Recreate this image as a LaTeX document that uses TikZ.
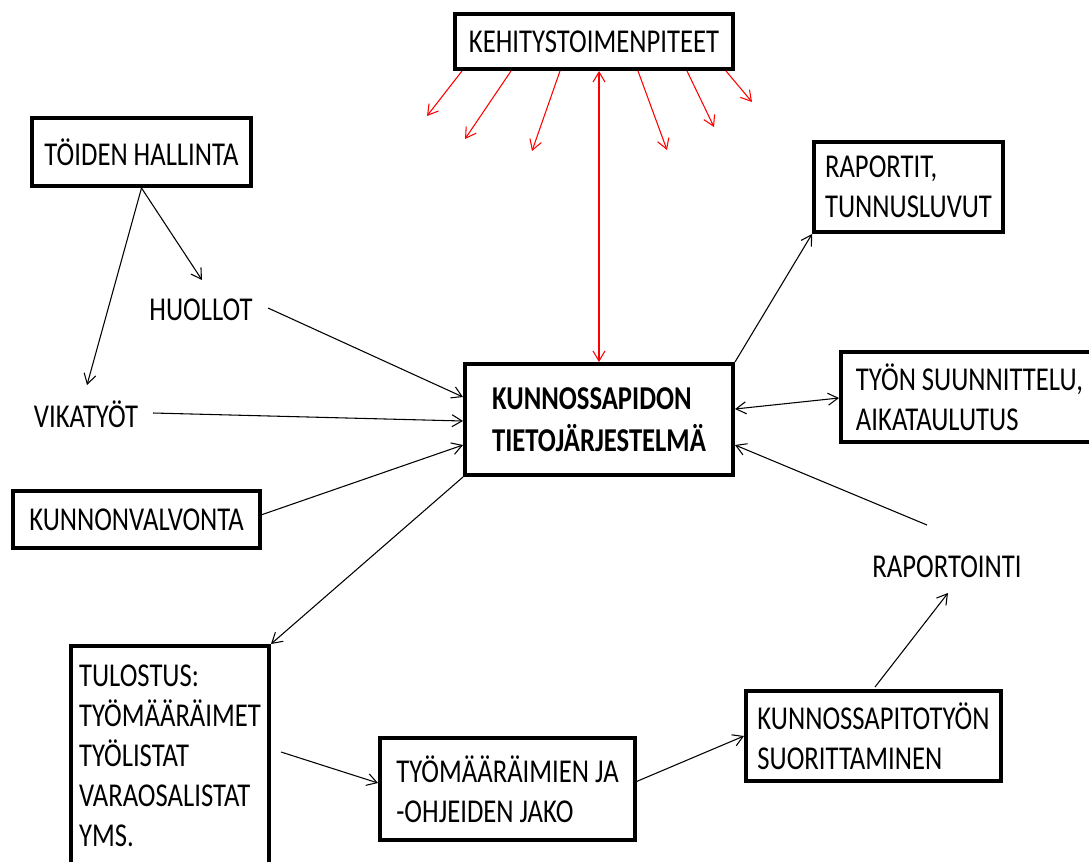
\documentclass[tikz,border=0pt]{standalone}
\usepackage{fontspec}
\setmainfont{Carlito}[FakeStretch=0.80]
\usetikzlibrary{arrows.meta}

\begin{document}
\begin{tikzpicture}[
  x=0.75pt, y=-0.75pt,
  every node/.style={font=\fontsize{25pt}{30pt}\selectfont},
  box/.style={draw, line width=3pt, align=left, inner sep=0pt},
  plain/.style={inner sep=0pt},
  arr/.style={line width=0.8pt, -{Straight Barb[length=7.5pt,width=9pt]}},
  darr/.style={line width=0.8pt, {Straight Barb[length=7.5pt,width=9pt]}-{Straight Barb[length=7.5pt,width=9pt]}},
  rarr/.style={arr, draw=red},
  rdarr/.style={darr, draw=red}
]
\fill[white] (0,0) rectangle (1089,861);
\clip (0,0) rectangle (1089,861);

% boxes
\node[box, minimum width=278*0.75pt, minimum height=55*0.75pt] (keh) at (594,41.5) {KEHITYSTOIMENPITEET};
\node[box, minimum width=219*0.75pt, minimum height=68*0.75pt] (toiden) at (141.5,152) {TÖIDEN HALLINTA};
\node[box, minimum width=189*0.75pt, minimum height=90*0.75pt] (raportit) at (908.5,187) {RAPORTIT,\\TUNNUSLUVUT};
\node[box, minimum width=268*0.75pt, minimum height=111*0.75pt, font=\fontsize{25pt}{31.5pt}\selectfont\bfseries] (central) at (599,419.5) {KUNNOSSAPIDON\\TIETOJÄRJESTELMÄ};
\node[box, minimum width=257*0.75pt, minimum height=90*0.75pt] (tyon) at (969.5,397) {TYÖN SUUNNITTELU,\\AIKATAULUTUS};
\node[box, minimum width=247*0.75pt, minimum height=57*0.75pt] (kunnonv) at (136.5,519.5) {KUNNONVALVONTA};
\node[box, anchor=north, minimum width=198*0.75pt, inner ysep=14pt, text depth=200pt] (tulostus) at (170,644)
  {TULOSTUS:\\TYÖMÄÄRÄIMET\\TYÖLISTAT\\VARAOSALISTAT\\YMS.};
\node[box, minimum width=255*0.75pt, minimum height=102*0.75pt] (jako) at (507.5,789) {TYÖMÄÄRÄIMIEN JA\\-OHJEIDEN JAKO};
\node[box, minimum width=255*0.75pt, minimum height=90*0.75pt] (suor) at (873.5,736) {KUNNOSSAPITOTYÖN\\SUORITTAMINEN};

% free-standing labels
\node[plain] (huollot) at (201,310) {HUOLLOT};
\node[plain] (vikatyot) at (86,414) {VIKATYÖT};
\node[plain] (raportointi) at (947,567) {RAPORTOINTI};

% black connectors
\draw[arr] (toiden.south) -- ([shift={(1,-30)}]huollot.center);
\draw[arr] (toiden.south) -- ([shift={(1,-29)}]vikatyot.center);
\draw[arr] ([shift={(67,-2)}]huollot.center) -- ([shift={(0,-22.5)}]central.west);
\draw[arr] ([shift={(67,-1)}]vikatyot.center) -- ([shift={(0,1.5)}]central.west);
\draw[arr] ([shift={(-4,-3.5)}]kunnonv.east) -- ([shift={(0,25.5)}]central.west);
\draw[arr] (central.south west) -- (tulostus.north east);
\draw[arr] (central.north east) -- (raportit.south west);
\draw[darr] ([shift={(0,-10.5)}]central.east) -- ([shift={(0,1)}]tyon.west);
\draw[arr] ([shift={(-20,-42)}]raportointi.center) -- ([shift={(0,25.5)}]central.east);
\draw[arr] ([shift={(10,108)}]tulostus.north east) -- ([shift={(0,-6)}]jako.west);
\draw[arr] ([shift={(-4,-6)}]jako.east) -- (suor.west);
\draw[arr] ([shift={(1.5,-2)}]suor.north) -- ([shift={(1,26)}]raportointi.center);

% red arrows spreading from the top box
\coordinate (r1) at (427,116);
\coordinate (r2) at (465,139);
\coordinate (r3) at (532,151);
\coordinate (r4) at (667,150);
\coordinate (r5) at (714,127);
\coordinate (r6) at (752,102);
\draw[rarr] ([shift={(9,0)}]keh.south west) -- (r1);
\draw[rarr] ([shift={(58,0)}]keh.south west) -- (r2);
\draw[rarr] ([shift={(107,0)}]keh.south west) -- (r3);
\draw[rarr] ([shift={(185,0)}]keh.south west) -- (r4);
\draw[rarr] ([shift={(234,0)}]keh.south west) -- (r5);
\draw[rarr] ([shift={(273,0)}]keh.south west) -- (r6);
\draw[rdarr] (keh.south -| central.north) -- (central.north);
\end{tikzpicture}
\end{document}
